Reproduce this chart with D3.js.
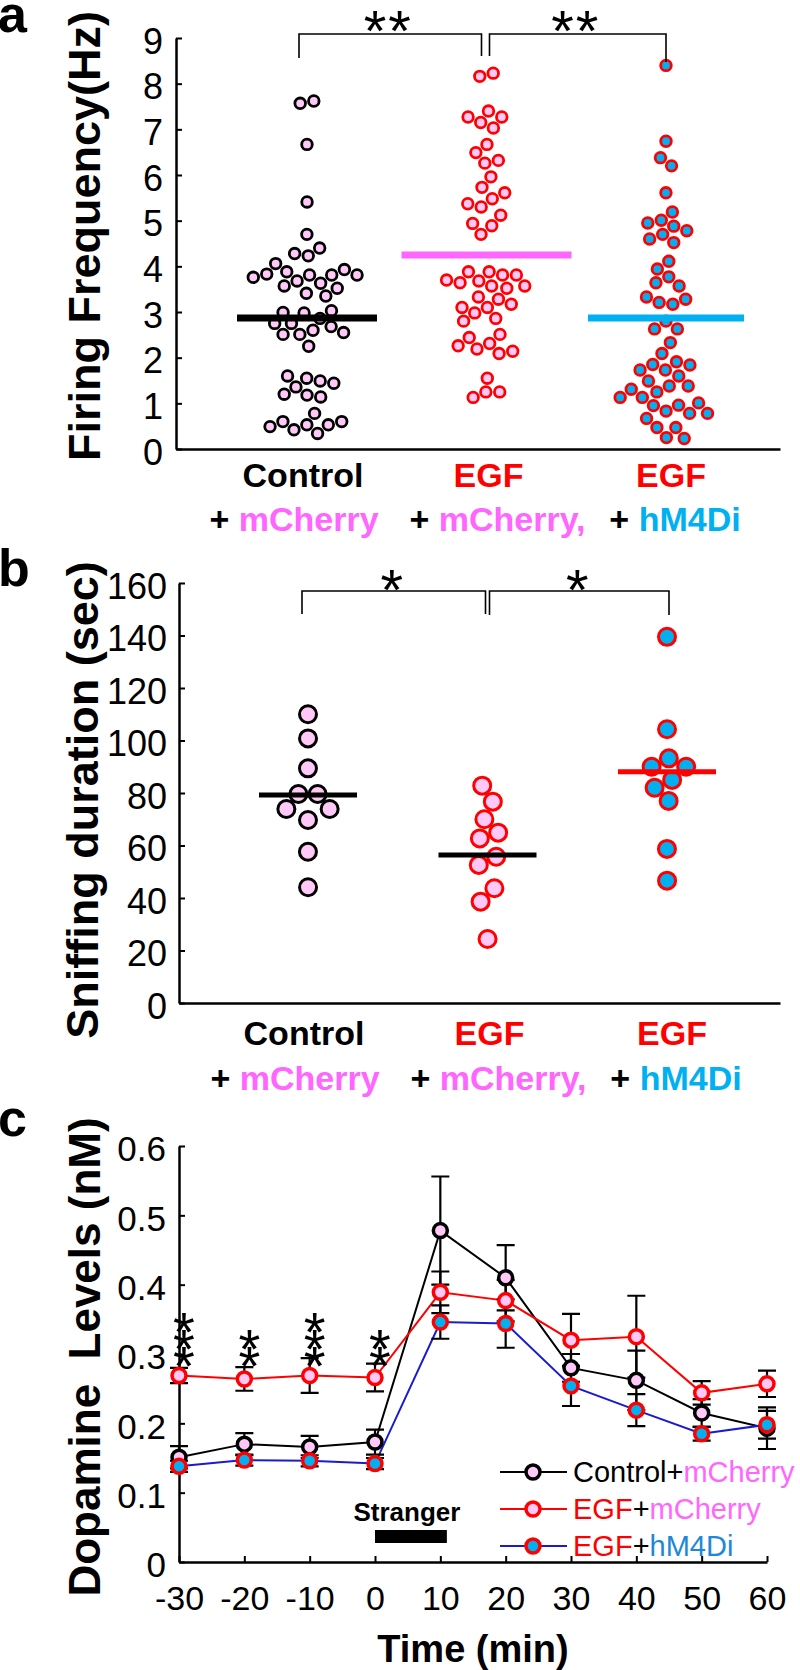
<!DOCTYPE html>
<html>
<head>
<meta charset="utf-8">
<script src="https://cdn.jsdelivr.net/npm/d3@7"></script>
<style>
  body { margin: 0; background: #fff; }
  svg { display: block; }
</style>
</head>
<body>
<svg id="chart" width="800" height="1670"></svg>
<script>
// ---------------- DATA ----------------
const groups = ["Control+mCherry", "EGF+mCherry", "EGF+hM4Di"];
const catLine1 = ["Control", "EGF", "EGF"];
const catLine2 = ["mCherry", "mCherry,", "hM4Di"];

// Panel a: firing frequency (Hz)
const firingControl = [7.57, 7.62, 6.67, 5.41, 4.70, 4.40, 4.28, 4.23, 4.06, 3.93, 3.88, 3.81, 3.68, 3.81, 3.76, 3.81, 3.83,
  3.63, 3.57, 3.52, 3.41, 3.35, 2.98, 3.03, 2.99, 2.86, 2.75, 2.68, 2.75, 2.55, 2.51, 2.60, 2.51, 2.25,
  1.60, 1.49, 1.55, 1.44, 1.36, 1.14, 1.20, 1.18, 0.78, 0.60, 0.49, 0.42, 0.53, 0.53, 0.60, 0.34];
const firingEGF = [8.16, 8.23, 7.27, 7.27, 7.40, 7.03, 7.15, 6.67, 6.49, 6.32, 6.26, 5.96, 5.73, 5.61, 5.37, 5.48, 5.30,
  5.12, 4.94, 4.89, 4.70, 3.81, 3.70, 3.81, 3.88, 3.88, 3.57, 3.52, 3.64, 3.57, 3.68, 3.28, 3.33, 3.17,
  3.10, 3.10, 2.98, 2.86, 2.80, 2.51, 2.44, 2.31, 2.19, 2.14, 2.26, 2.09, 1.55, 1.25, 1.13, 1.25];
const firingHM4Di = [8.40, 6.74, 6.38, 6.20, 5.61, 5.19, 5.01, 4.88, 4.95, 4.78, 4.70, 4.52, 4.60, 4.11, 3.94, 3.77, 3.64,
  3.57, 3.33, 3.28, 3.21, 3.17, 2.80, 2.63, 2.63, 2.33, 2.09, 1.84, 1.73, 1.60, 1.85, 1.91, 1.73, 1.38,
  1.31, 1.25, 1.49, 1.38, 1.13, 1.01, 0.95, 0.96, 1.13, 0.78, 0.67, 0.78, 0.83, 0.47, 0.47, 0.23, 0.25];
const firingMeans = [2.87, 4.25, 2.87];
const firingTicks = [0, 1, 2, 3, 4, 5, 6, 7, 8, 9];
const firingSig = [{ a: 0, b: 1, label: "**" }, { a: 1, b: 2, label: "**" }];

// Panel b: sniffing duration (sec)
const sniffControl = [110.0, 100.8, 89.4, 79.6, 79.6, 73.9, 73.9, 69.7, 57.6, 44.1];
const sniffEGF = [82.8, 76.7, 70.0, 64.9, 62.7, 55.7, 52.6, 43.7, 38.6, 24.4];
const sniffHM4Di = [139.5, 104.3, 93.2, 90.0, 90.0, 85.0, 82.0, 77.0, 58.7, 46.6];
const sniffMeans = [79.2, 56.4, 88.1];
const sniffTicks = [0, 20, 40, 60, 80, 100, 120, 140, 160];
const sniffSig = [{ a: 0, b: 1, label: "*" }, { a: 1, b: 2, label: "*" }];

// Panel c: dopamine levels (nM)
const times = [-30, -20, -10, 0, 10, 20, 30, 40, 50, 60];
const daControl = [0.151, 0.170, 0.166, 0.173, 0.478, 0.410, 0.280, 0.262, 0.215, 0.193];
const daControlSem = [0.016, 0.016, 0.016, 0.018, 0.078, 0.047, 0.020, 0.043, 0.020, 0.030];
const daEGF = [0.269, 0.264, 0.269, 0.266, 0.389, 0.377, 0.320, 0.325, 0.244, 0.257];
const daEGFSem = [0.011, 0.017, 0.025, 0.020, 0.030, 0.030, 0.038, 0.059, 0.017, 0.019];
const daHM4Di = [0.138, 0.147, 0.146, 0.142, 0.346, 0.344, 0.254, 0.219, 0.185, 0.198];
const daHM4DiSem = [0.008, 0.008, 0.008, 0.008, 0.024, 0.035, 0.029, 0.023, 0.010, 0.020];
const daTicks = [0, 0.1, 0.2, 0.3, 0.4, 0.5, 0.6];
const starTimes = [-30, -20, -10, 0];
const starCounts = [3, 2, 3, 2];
const strangerPeriod = [0, 11];
const legendParts = [
  ["Control", "+", "mCherry"],
  ["EGF", "+", "mCherry"],
  ["EGF", "+", "hM4Di"]
];

// ---------------- STYLE ----------------
const FONT = '"Liberation Sans", Arial, Helvetica, sans-serif';
const PINK_FILL = "#ffc8f6";
const MAGENTA = "#ff66ff";
const CYAN = "#00b0f0";
const RED = "#ff0000";
const BLUE_LINE = "#1a1ad0";
const LEGEND_BLUE = "#1e88d8";
const dotStroke = ["#000", RED, RED];
const dotFill = [PINK_FILL, PINK_FILL, CYAN];
const line1Color = ["#000", RED, RED];
const line2Color = [MAGENTA, MAGENTA, CYAN];
const line1Shift = [-4, 2, 5];
const line2Shift = [-13, 11, 9];

const svg = d3.select("#chart");

function styleYAxis(g, fs) {
  g.select(".domain").attr("stroke", "#000").attr("stroke-width", 2.5);
  g.selectAll(".tick line").attr("stroke", "#000").attr("stroke-width", 2);
  g.selectAll(".tick text").attr("font-size", fs).attr("font-family", FONT).attr("fill", "#000").attr("dy", "0.42em");
}

function swarm(valueSets, xs, ys, r) {
  const nodes = [];
  valueSets.forEach((vals, gi) => vals.forEach((v, i) => {
    nodes.push({ g: gi, v: v, x: xs(groups[gi]) + (i % 2 ? 1 : -1) * (0.5 + (i % 5)), y: ys(v), fy: ys(v) });
  }));
  const sim = d3.forceSimulation(nodes)
    .force("x", d3.forceX(d => xs(groups[d.g])).strength(0.06))
    .force("collide", d3.forceCollide(r).iterations(4))
    .stop();
  for (let k = 0; k < 400; k++) sim.tick();
  return nodes;
}

function yTitle(text, cx, cy, fs) {
  svg.append("text")
    .attr("transform", `translate(${cx},${cy}) rotate(-90)`)
    .attr("text-anchor", "middle")
    .attr("font-family", FONT).attr("font-weight", "bold").attr("font-size", fs)
    .text(text);
}

function panelLetter(t, y) {
  svg.append("text").attr("x", -2).attr("y", y)
    .attr("font-family", FONT).attr("font-weight", "bold").attr("font-size", 52).text(t);
}

function catLabels(xs, yRow1, yRow2) {
  groups.forEach((gname, i) => {
    svg.append("text").attr("x", xs(gname) + line1Shift[i]).attr("y", yRow1)
      .attr("text-anchor", "middle").attr("font-family", FONT).attr("font-weight", "bold").attr("font-size", 34)
      .attr("fill", line1Color[i]).text(catLine1[i]);
    const t = svg.append("text").attr("x", xs(gname) + line2Shift[i]).attr("y", yRow2)
      .attr("text-anchor", "middle").attr("font-family", FONT).attr("font-weight", "bold").attr("font-size", 34);
    t.append("tspan").attr("fill", "#000").text("+ ");
    t.append("tspan").attr("fill", line2Color[i]).text(catLine2[i]);
  });
}

function brackets(sig, xs, topY, drops, offsets, fs, starDy) {
  sig.forEach((s, k) => {
    const x1 = xs(groups[s.a]) + offsets[k][0];
    const x2 = xs(groups[s.b]) + offsets[k][1];
    svg.append("path")
      .attr("d", `M${x1},${topY + drops[k][0]}V${topY}H${x2}V${topY + drops[k][1]}`)
      .attr("fill", "none").attr("stroke", "#000").attr("stroke-width", 1.6);
    svg.append("text").attr("x", (x1 + x2) / 2 - 2).attr("y", topY + starDy)
      .attr("text-anchor", "middle").attr("font-family", FONT).attr("font-size", fs)
      .attr("letter-spacing", s.label.length > 1 ? 2 : 0)
      .text(s.label);
  });
}

// ---------------- PANEL A ----------------
const xA = d3.scalePoint().domain(groups).range([307, 666]);
const yA = d3.scaleLinear().domain([0, 9]).range([449, 38]);
const frameA = d3.scaleLinear().domain([0, 1]).range([176, 780]);

panelLetter("a", 32);
yTitle("Firing Frequency(Hz)", 100, 236, 45);

svg.append("g").attr("transform", "translate(176,0)")
  .call(d3.axisLeft(yA).tickValues(firingTicks).tickFormat(d3.format("d")).tickSize(-6).tickSizeOuter(0).tickPadding(13))
  .call(g => styleYAxis(g, 36));
svg.append("g").attr("transform", `translate(0,${yA(0)})`)
  .call(d3.axisBottom(frameA).tickValues([]).tickSizeOuter(0))
  .call(g => g.select(".domain").attr("stroke", "#000").attr("stroke-width", 2.5));

const nodesA = swarm([firingControl, firingEGF, firingHM4Di], xA, yA, 6.9);
svg.append("g").selectAll("circle").data(nodesA).join("circle")
  .attr("cx", d => d.x).attr("cy", d => d.fy).attr("r", 5.3)
  .attr("fill", d => dotFill[d.g]).attr("stroke", d => dotStroke[d.g]).attr("stroke-width", 2.8);

const meanHalfA = [70, 85, 78];
const meanColorA = ["#000", MAGENTA, CYAN];
svg.append("g").selectAll("line").data(firingMeans).join("line")
  .attr("x1", (d, i) => xA(groups[i]) - meanHalfA[i]).attr("x2", (d, i) => xA(groups[i]) + meanHalfA[i])
  .attr("y1", d => yA(d)).attr("y2", d => yA(d))
  .attr("stroke", (d, i) => meanColorA[i]).attr("stroke-width", 7);

brackets(firingSig, xA, yA(9) - 4, [[24, 22], [22, 28]], [[-8, -5], [3, 0]], 58, 17);
catLabels(xA, 487, 531);

// ---------------- PANEL B ----------------
const xB = d3.scalePoint().domain(groups).range([308, 667]);
const yB = d3.scaleLinear().domain([0, 160]).range([1003, 583]);
const frameB = d3.scaleLinear().domain([0, 1]).range([179, 780]);

panelLetter("b", 586);
yTitle("Sniffing duration (sec)", 98, 800, 45);

svg.append("g").attr("transform", "translate(179,0)")
  .call(d3.axisLeft(yB).tickValues(sniffTicks).tickFormat(d3.format("d")).tickSize(-6).tickSizeOuter(0).tickPadding(12))
  .call(g => styleYAxis(g, 36));
svg.append("g").attr("transform", `translate(0,${yB(0)})`)
  .call(d3.axisBottom(frameB).tickValues([]).tickSizeOuter(0))
  .call(g => g.select(".domain").attr("stroke", "#000").attr("stroke-width", 2.5));

const nodesB = swarm([sniffControl, sniffEGF, sniffHM4Di], xB, yB, 9.6);
svg.append("g").selectAll("circle").data(nodesB).join("circle")
  .attr("cx", d => d.x).attr("cy", d => d.fy).attr("r", 8.5)
  .attr("fill", d => dotFill[d.g]).attr("stroke", d => dotStroke[d.g]).attr("stroke-width", 3);

const meanColorB = ["#000", "#000", RED];
svg.append("g").selectAll("line").data(sniffMeans).join("line")
  .attr("x1", (d, i) => xB(groups[i]) - 49).attr("x2", (d, i) => xB(groups[i]) + 49)
  .attr("y1", d => yB(d)).attr("y2", d => yB(d))
  .attr("stroke", (d, i) => meanColorB[i]).attr("stroke-width", 5);

brackets(sniffSig, xB, yB(160) + 8, [[23, 23], [24, 24]], [[-6, -2], [2, 2]], 58, 19);
catLabels(xB, 1045, 1090);

// ---------------- PANEL C ----------------
const xC = d3.scaleLinear().domain([-30, 60]).range([179, 767]);
const yC = d3.scaleLinear().domain([0, 0.6]).range([1562, 1146]);

panelLetter("c", 1136);
yTitle("Dopamine\u00a0 Levels (nM)", 100, 1357, 44);

svg.append("g").attr("transform", "translate(179,0)")
  .call(d3.axisLeft(yC).tickValues(daTicks).tickFormat(d => d === 0 ? "0" : d3.format(".1f")(d)).tickSize(-6).tickSizeOuter(0).tickPadding(13))
  .call(g => styleYAxis(g, 35));
svg.append("g").attr("transform", `translate(0,${yC(0)})`)
  .call(d3.axisBottom(xC).tickValues(times).tickFormat(d => String(d)).tickSize(-6).tickSizeOuter(0).tickPadding(24))
  .call(g => {
    g.select(".domain").attr("stroke", "#000").attr("stroke-width", 2.5);
    g.selectAll(".tick line").attr("stroke", "#000").attr("stroke-width", 2);
    g.selectAll(".tick text").attr("font-size", 34).attr("font-family", FONT).attr("fill", "#000");
  });

svg.append("text").attr("x", 473).attr("y", 1662).attr("text-anchor", "middle")
  .attr("font-family", FONT).attr("font-weight", "bold").attr("font-size", 38).text("Time (min)");

// stranger bar
svg.append("rect").attr("x", xC(strangerPeriod[0])).attr("width", xC(strangerPeriod[1]) - xC(strangerPeriod[0]))
  .attr("y", yC(0) - 32).attr("height", 13).attr("fill", "#000");
svg.append("text").attr("x", (xC(strangerPeriod[0]) + xC(strangerPeriod[1])) / 2 - 4).attr("y", yC(0) - 41)
  .attr("text-anchor", "middle").attr("font-family", FONT).attr("font-weight", "bold").attr("font-size", 26).text("Stranger");

const seriesC = [
  { vals: daControl, sem: daControlSem, line: "#000", stroke: "#000", fill: PINK_FILL },
  { vals: daEGF, sem: daEGFSem, line: RED, stroke: RED, fill: PINK_FILL },
  { vals: daHM4Di, sem: daHM4DiSem, line: BLUE_LINE, stroke: RED, fill: CYAN }
];
const lineGen = d3.line().x((d, i) => xC(times[i])).y(d => yC(d));

seriesC.forEach(s => {
  svg.append("path").attr("d", lineGen(s.vals)).attr("fill", "none").attr("stroke", s.line).attr("stroke-width", 2);
});
const capW = 9;
seriesC.forEach(s => {
  const g = svg.append("g").attr("stroke", "#000").attr("stroke-width", 2.2).attr("fill", "none");
  s.vals.forEach((v, i) => {
    const x = xC(times[i]), y1 = yC(v - s.sem[i]), y2 = yC(v + s.sem[i]);
    g.append("path").attr("d", `M${x},${y1}V${y2}M${x - capW},${y1}H${x + capW}M${x - capW},${y2}H${x + capW}`);
  });
});
seriesC.forEach(s => {
  svg.append("g").selectAll("circle").data(s.vals).join("circle")
    .attr("cx", (d, i) => xC(times[i])).attr("cy", d => yC(d)).attr("r", 7)
    .attr("fill", s.fill).attr("stroke", s.stroke).attr("stroke-width", 3.5);
});

// significance stars, stacked
starTimes.forEach((t, i) => {
  for (let k = 0; k < starCounts[i]; k++) {
    svg.append("text").attr("x", xC(t) + 5).attr("y", yC(0.30) - k * 17 + 31)
      .attr("text-anchor", "middle").attr("font-family", FONT).attr("font-size", 56).text("*");
  }
});

// legend
const legendY = [1472, 1509, 1546];
const legendColors = [["#000", "#000", MAGENTA], [RED, "#000", MAGENTA], [RED, "#000", LEGEND_BLUE]];
seriesC.forEach((s, i) => {
  const ly = legendY[i];
  svg.append("line").attr("x1", 500).attr("x2", 567).attr("y1", ly).attr("y2", ly).attr("stroke", s.line).attr("stroke-width", 2);
  svg.append("circle").attr("cx", 533).attr("cy", ly).attr("r", 7).attr("fill", s.fill).attr("stroke", s.stroke).attr("stroke-width", 3.5);
  const t = svg.append("text").attr("x", 573).attr("y", ly + 10).attr("font-family", FONT).attr("font-size", 29);
  legendParts[i].forEach((p, j) => t.append("tspan").attr("fill", legendColors[i][j]).text(p));
});
</script>
</body>
</html>
